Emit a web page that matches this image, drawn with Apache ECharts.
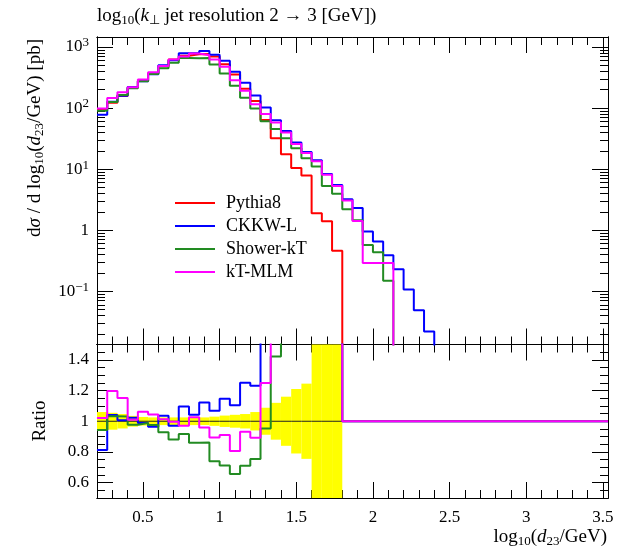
<!DOCTYPE html>
<html>
<head>
<meta charset="utf-8">
<script src="https://cdn.jsdelivr.net/npm/echarts@6/dist/echarts.min.js"></script>
<style>
  html, body { margin: 0; padding: 0; background: #fff; }
  #chart { width: 628px; height: 549px; }
</style>
</head>
<body>
<div id="chart"></div>
<script>
// Histogram binning in log10(d23/GeV): 50 bins of width 1/15 starting at 0.2
const binStart = 0.2;
const binWidth = 1 / 15;
const nBins = 50;

// dsigma/dlog10(d23/GeV) [pb] per bin (bins beyond each array are empty)
const pythia8 = [96, 122, 158, 217, 277, 370, 485, 625, 720, 760, 765, 700, 520, 355, 207, 130,
  64, 32, 17.6, 10.4, 7.9, 1.9, 1.4, 0.46];
const pythia8RelErr = [0.06, 0.055, 0.047, 0.035, 0.028, 0.025, 0.025, 0.025, 0.025, 0.025, 0.025,
  0.03, 0.037, 0.042, 0.047, 0.06, 0.088, 0.12, 0.16, 0.21, 0.245, 0.7, 0.8, 1.0];
const ckkwL = [78, 127, 159, 222, 274, 357, 502, 607, 789, 792, 859, 748, 596, 392, 259, 160,
  102, 63, 42, 27.3, 19, 14, 8.3, 5.5, 3.22, 2.3, 0.95, 0.65, 0.39, 0.23, 0.107, 0.049, 0.022];
const showerKT = [90.5, 126, 163, 212, 274, 361, 450, 551, 660, 653, 659, 518, 370, 233, 147, 98,
  61, 45.5, 32, 22, 15.1, 11, 5.3, 3.94, 2.2, 1.45, 0.574, 0.436, 0.149];
const ktMLM = [98, 146, 182, 219, 294, 386, 491, 623, 699, 780, 734, 626, 473, 286, 193, 116,
  80, 58, 40, 25.7, 18.3, 13.5, 8.1, 5.3, 3.06, 1.42, 0.29, 0.29, 0.29];

// Tick positions and labels
const xMajorTicks = [0.5, 1, 1.5, 2, 2.5, 3, 3.5];
const mainMajorTicks = [0.1, 1, 10, 100, 1000];
const ratioMajorTicks = [0.6, 0.8, 1, 1.2, 1.4];

const seriesDefs = [
  { name: 'Pythia8', values: pythia8, color: '#ff0000' },
  { name: 'CKKW-L', values: ckkwL, color: '#0000ff' },
  { name: 'Shower-kT', values: showerKT, color: '#228b22' },
  { name: 'kT-MLM', values: ktMLM, color: '#ff00ff' }
];

const xMin = binStart;
const xMax = binStart + nBins * binWidth;
const mainMin = 0.01343;
const mainMax = 1459;
const floorValue = 1e-5; // empty bins drop below the visible log range

function edge(k) { return binStart + k * binWidth; }
function valueAt(arr, k) { return k < arr.length ? arr[k] : 0; }

function stepPoints(arr) {
  const pts = [];
  for (let k = 0; k < nBins; k++) {
    const v = valueAt(arr, k);
    pts.push([edge(k), v > 0 ? v : floorValue]);
  }
  pts.push([edge(nBins), pts[pts.length - 1][1]]);
  return pts;
}
function ratioPoints(arr) {
  const pts = [];
  for (let k = 0; k < nBins; k++) {
    const ref = valueAt(pythia8, k);
    const v = valueAt(arr, k);
    pts.push([edge(k), ref > 0 ? v / ref : 1]);
  }
  pts.push([edge(nBins), pts[pts.length - 1][1]]);
  return pts;
}

// minor tick positions
const xMinorTicks = [];
for (let i = 3; i <= 35; i++) { if (i % 5 !== 0) xMinorTicks.push(i / 10); }
const mainMinorTicks = [];
for (let e = -2; e <= 3; e++) {
  for (let m = 2; m <= 9; m++) {
    const v = m * Math.pow(10, e);
    if (v > mainMin && v < mainMax) mainMinorTicks.push(v);
  }
}
const ratioMinorTicks = [];
for (let i = 11; i <= 29; i++) { if (i % 4 !== 0) ratioMinorTicks.push(i * 0.05); }

const FONT = 'Liberation Serif';
const black = '#000';

function xAxisDef(grid, position, ticks, len, labels) {
  return {
    type: 'value', gridIndex: grid, position: position, min: xMin, max: xMax,
    axisLine: { show: true, onZero: false, lineStyle: { color: black, width: 1 } },
    axisTick: { show: true, inside: true, length: len, customValues: ticks, lineStyle: { color: black, width: 1 } },
    axisLabel: labels ? {
      show: true, customValues: ticks, margin: 11, color: black, fontFamily: FONT, fontSize: 17,
      formatter: v => String(+v.toFixed(2))
    } : { show: false },
    splitLine: { show: false }
  };
}
function mainYAxisDef(position, ticks, len, labels) {
  return {
    type: 'log', gridIndex: 0, position: position, min: mainMin, max: mainMax, logBase: 10,
    axisLine: { show: true, onZero: false, lineStyle: { color: black, width: 1 } },
    axisTick: { show: true, inside: true, length: len, customValues: ticks, lineStyle: { color: black, width: 1 } },
    axisLabel: labels ? {
      show: true, customValues: ticks, margin: 8, color: black, fontFamily: FONT, fontSize: 17,
      lineHeight: 21,
      formatter: v => {
        const n = Math.round(Math.log10(v));
        if (n === 0) return '1';
        return '10{sup|' + (n < 0 ? '\u2212' + (-n) : n) + '}';
      },
      rich: { sup: { fontFamily: FONT, fontSize: 13, verticalAlign: 'top', lineHeight: 13, color: black } }
    } : { show: false },
    splitLine: { show: false }, minorTick: { show: false }
  };
}
function ratioYAxisDef(position, ticks, len, labels) {
  return {
    type: 'value', gridIndex: 1, position: position, min: 0.5, max: 1.5,
    axisLine: { show: true, onZero: false, lineStyle: { color: black, width: 1 } },
    axisTick: { show: true, inside: true, length: len, customValues: ticks, lineStyle: { color: black, width: 1 } },
    axisLabel: labels ? {
      show: true, customValues: ticks, margin: 8, color: black, fontFamily: FONT, fontSize: 17,
      formatter: v => String(+v.toFixed(2))
    } : { show: false },
    splitLine: { show: false }
  };
}

const series = [];
// Main panel histograms
seriesDefs.forEach(d => {
  series.push({
    type: 'line', name: d.name, xAxisIndex: 0, yAxisIndex: 0,
    data: stepPoints(d.values), step: 'end', symbol: 'none', clip: true,
    lineStyle: { color: d.color, width: 2 }, itemStyle: { color: d.color },
    emphasis: { disabled: true }
  });
});
// Ratio panel: reference uncertainty band
const bandData = [];
pythia8.forEach((v, k) => {
  const e = pythia8RelErr[k];
  bandData.push([edge(k), edge(k + 1), 1 + e, 1 - e]);
});
series.push({
  type: 'custom', name: 'band', xAxisIndex: 4, yAxisIndex: 4, data: bandData,
  encode: { x: [0, 1], y: [2, 3] }, silent: true,
  renderItem: (params, api) => {
    const p1 = api.coord([api.value(0), api.value(2)]);
    const p2 = api.coord([api.value(1), api.value(3)]);
    const cs = params.coordSys;
    const shape = echarts.graphic.clipRectByRect(
      { x: p1[0], y: p1[1], width: p2[0] - p1[0], height: p2[1] - p1[1] },
      { x: cs.x, y: cs.y, width: cs.width, height: cs.height });
    return shape && { type: 'rect', shape: shape, style: { fill: '#ffff00' } };
  }
});
// Reference divided by itself
series.push({
  type: 'line', name: 'ref', xAxisIndex: 4, yAxisIndex: 4,
  data: ratioPoints(pythia8), step: 'end', symbol: 'none', clip: true,
  lineStyle: { color: '#222', width: 1 }, emphasis: { disabled: true }, silent: true
});
seriesDefs.slice(1).forEach(d => {
  series.push({
    type: 'line', name: d.name, xAxisIndex: 4, yAxisIndex: 4,
    data: ratioPoints(d.values), step: 'end', symbol: 'none', clip: true,
    lineStyle: { color: d.color, width: 2 }, itemStyle: { color: d.color },
    emphasis: { disabled: true }
  });
});

const subStyle = { fontFamily: FONT, fontSize: 13, verticalAlign: 'bottom', lineHeight: 15, color: black };
const itStyle = { fontFamily: FONT, fontSize: 19, fontStyle: 'italic', lineHeight: 22, color: black };

const option = {
  animation: false,
  backgroundColor: '#fff',
  grid: [
    { left: 97, top: 37, width: 511, height: 307.5, containLabel: false, outerBoundsMode: 'none' },
    { left: 97, top: 344.5, width: 511, height: 153.5, containLabel: false, outerBoundsMode: 'none' }
  ],
  xAxis: [
    xAxisDef(0, 'bottom', xMajorTicks, 16, false),
    xAxisDef(0, 'bottom', xMinorTicks, 8, false),
    xAxisDef(0, 'top', xMajorTicks, 16, false),
    xAxisDef(0, 'top', xMinorTicks, 8, false),
    xAxisDef(1, 'bottom', xMajorTicks, 16, true),
    xAxisDef(1, 'bottom', xMinorTicks, 8, false),
    xAxisDef(1, 'top', xMajorTicks, 16, false),
    xAxisDef(1, 'top', xMinorTicks, 8, false)
  ],
  yAxis: [
    mainYAxisDef('left', mainMajorTicks, 16, true),
    mainYAxisDef('left', mainMinorTicks, 8, false),
    mainYAxisDef('right', mainMajorTicks, 16, false),
    mainYAxisDef('right', mainMinorTicks, 8, false),
    ratioYAxisDef('left', ratioMajorTicks, 16, true),
    ratioYAxisDef('left', ratioMinorTicks, 8, false),
    ratioYAxisDef('right', ratioMajorTicks, 16, false),
    ratioYAxisDef('right', ratioMinorTicks, 8, false)
  ],
  legend: {
    data: seriesDefs.map(d => d.name),
    orient: 'vertical', left: 170, top: 189, icon: 'rect',
    itemWidth: 40, itemHeight: 2, itemGap: 5,
    selectedMode: false,
    textStyle: { fontFamily: FONT, fontSize: 18, color: black, lineHeight: 18, padding: [0, 0, 0, 6] }
  },
  graphic: [
    {
      type: 'text', left: 97, top: 5, silent: true,
      style: {
        text: 'log{sub|10}({it|k}{sub|\u22a5} jet resolution 2 \u2192 3 [GeV])',
        font: '19px "Liberation Serif"', fill: black, lineHeight: 22,
        rich: { sub: subStyle, it: itStyle }
      }
    },
    {
      type: 'text', x: 35, y: 39, rotation: Math.PI / 2, silent: true,
      style: {
        text: 'd{it|\u03c3} / d log{sub|10}({it|d}{sub|23}/GeV) [pb]',
        font: '19px "Liberation Serif"', fill: black, lineHeight: 22,
        align: 'right', verticalAlign: 'middle',
        rich: { sub: subStyle, it: itStyle }
      }
    },
    {
      type: 'text', x: 40, y: 421, rotation: Math.PI / 2, silent: true,
      style: {
        text: 'Ratio', font: '19px "Liberation Serif"', fill: black,
        align: 'center', verticalAlign: 'middle'
      }
    },
    {
      type: 'text', x: 607, y: 537, silent: true,
      style: {
        text: 'log{sub|10}({it|d}{sub|23}/GeV)',
        font: '19px "Liberation Serif"', fill: black, lineHeight: 22,
        align: 'right', verticalAlign: 'middle',
        rich: { sub: subStyle, it: itStyle }
      }
    }
  ],
  series: series
};

const chart = echarts.init(document.getElementById('chart'), null, { renderer: 'canvas' });
chart.setOption(option);
</script>
</body>
</html>
